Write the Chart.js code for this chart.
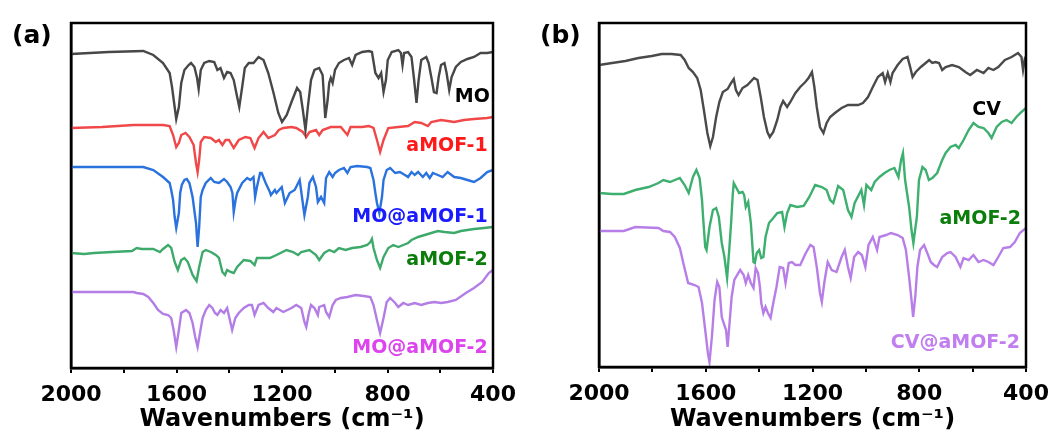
<!DOCTYPE html>
<html>
<head>
<meta charset="utf-8">
<script src="https://cdn.jsdelivr.net/npm/chart.js@4.4.1/dist/chart.umd.min.js"></script>
<style>
  html, body { margin: 0; padding: 0; background: #fff; }
  #wrap { position: relative; width: 1061px; height: 437px; }
  canvas { position: absolute; top: 0; }
  #chartA { left: 0; }
  #chartB { left: 530px; }
</style>
</head>
<body>
<div id="wrap">
  <canvas id="chartA" width="530" height="437"></canvas>
  <canvas id="chartB" width="531" height="437"></canvas>
</div>
<script>
// x axis: wavenumber, labelled ticks
const xTickLabels = [2000, 1600, 1200, 800, 400];

// Panel (a) spectra: [wavenumber, transmittance (a.u., offset)]
const MO = [[2000,314],[1857,316],[1726,317],[1688,313],[1651,305],[1626,295],[1617,281],[1607,261],[1601,249],[1591,261],[1582,285],[1570,298],[1554,303],[1545,305],[1532,301],[1522,290],[1516,279],[1508,298],[1495,305],[1476,307],[1457,306],[1445,298],[1433,300],[1420,290],[1408,296],[1395,295],[1383,288],[1370,271],[1362,261],[1351,281],[1341,300],[1326,305],[1308,305],[1289,311],[1270,308],[1252,295],[1233,276],[1214,255],[1200,246],[1182,253],[1164,266],[1143,280],[1131,276],[1121,258],[1111,238],[1102,261],[1090,288],[1077,298],[1059,300],[1046,293],[1036,250],[1027,268],[1021,285],[1015,290],[1008,285],[999,298],[984,305],[965,308],[946,310],[934,303],[921,313],[896,316],[871,317],[859,316],[846,295],[834,290],[824,295],[815,276],[806,288],[799,308],[784,316],[759,318],[749,315],[743,303],[737,315],[722,316],[709,311],[699,288],[690,265],[682,288],[672,308],[653,311],[644,305],[634,291],[624,276],[614,275],[606,291],[597,303],[584,305],[576,295],[566,278],[557,291],[541,301],[522,306],[497,309],[472,311],[447,315],[422,315],[400,316]];

const aMOF1 = [[2000,240],[1882,241],[1763,243],[1651,243],[1626,242],[1613,233],[1601,221],[1591,225],[1582,233],[1566,235],[1551,231],[1535,223],[1526,205],[1520,196],[1514,208],[1508,226],[1495,231],[1470,230],[1451,226],[1439,228],[1426,223],[1414,228],[1401,228],[1383,220],[1364,228],[1339,231],[1320,230],[1304,220],[1289,230],[1270,236],[1252,230],[1227,233],[1212,238],[1195,240],[1164,241],[1146,240],[1121,236],[1108,231],[1096,236],[1071,238],[1059,233],[1046,238],[1015,241],[977,241],[952,233],[940,241],[896,241],[871,242],[853,240],[840,228],[828,216],[815,228],[797,240],[759,241],[722,242],[697,246],[672,245],[647,242],[634,246],[597,248],[547,246],[510,248],[472,249],[422,250],[400,251]];

const MOaMOF1 = [[2000,201],[1751,201],[1726,201],[1688,198],[1651,191],[1626,185],[1620,178],[1613,168],[1607,151],[1601,140],[1591,155],[1586,175],[1580,183],[1570,188],[1561,189],[1551,185],[1539,171],[1526,145],[1520,121],[1514,141],[1508,171],[1501,178],[1489,185],[1470,190],[1457,186],[1439,185],[1420,189],[1408,186],[1395,181],[1388,175],[1383,156],[1376,168],[1370,175],[1351,185],[1332,190],[1320,188],[1308,191],[1302,171],[1295,181],[1283,195],[1277,195],[1262,185],[1246,176],[1242,173],[1227,178],[1221,175],[1201,181],[1189,165],[1171,175],[1152,178],[1133,188],[1115,153],[1102,171],[1096,185],[1083,191],[1071,181],[1064,166],[1052,171],[1040,165],[1033,190],[1021,196],[1008,191],[999,195],[984,198],[965,200],[952,195],[940,201],[915,202],[877,201],[865,200],[853,188],[846,175],[840,165],[831,155],[821,171],[815,188],[803,198],[790,200],[771,195],[753,196],[734,193],[722,191],[709,196],[697,193],[684,196],[666,191],[653,195],[640,190],[628,195],[609,193],[591,191],[572,196],[547,191],[522,190],[497,188],[472,186],[447,190],[422,196],[400,198]];

const aMOF2a = [[2000,115],[1950,114],[1913,115],[1844,116],[1769,117],[1751,120],[1732,119],[1688,119],[1663,116],[1651,119],[1632,123],[1620,120],[1607,106],[1595,98],[1582,108],[1570,110],[1557,106],[1539,93],[1524,87],[1514,101],[1501,116],[1489,118],[1470,116],[1451,113],[1439,110],[1426,96],[1416,93],[1408,98],[1395,96],[1383,95],[1370,101],[1345,108],[1320,107],[1304,103],[1295,110],[1277,110],[1246,110],[1221,113],[1183,118],[1158,116],[1139,113],[1127,116],[1096,118],[1071,113],[1059,108],[1040,115],[1021,118],[1002,116],[984,120],[959,118],[934,120],[902,121],[877,123],[865,126],[859,129],[853,120],[840,108],[828,100],[815,111],[797,120],[778,123],[759,121],[740,123],[722,125],[709,128],[684,131],[659,133],[634,135],[609,137],[584,136],[547,135],[522,137],[497,138],[472,139],[434,140],[400,141]];

const MOaMOF2 = [[2000,76],[1763,76],[1751,75],[1726,74],[1707,71],[1688,65],[1670,58],[1651,54],[1632,53],[1620,50],[1611,38],[1601,21],[1591,38],[1582,55],[1564,58],[1551,55],[1539,45],[1529,31],[1520,21],[1511,35],[1501,50],[1489,58],[1476,63],[1464,60],[1454,55],[1445,53],[1433,58],[1420,55],[1408,60],[1395,45],[1389,38],[1377,50],[1364,55],[1345,60],[1326,63],[1314,63],[1304,53],[1289,63],[1270,65],[1252,60],[1233,56],[1221,60],[1195,56],[1164,60],[1146,63],[1127,60],[1115,46],[1108,41],[1098,55],[1090,63],[1077,60],[1064,53],[1059,61],[1040,63],[1033,56],[1021,51],[1008,63],[996,68],[977,70],[952,71],[921,73],[890,72],[865,71],[853,63],[840,48],[828,35],[815,50],[803,66],[790,70],[771,65],[759,61],[740,65],[722,63],[697,65],[672,63],[647,65],[622,66],[597,65],[572,66],[541,68],[503,75],[472,80],[441,86],[416,95],[400,98]];

// Panel (b) spectra
const CV = [[2000,302],[1951,304],[1901,306],[1852,309],[1802,311],[1765,313],[1728,313],[1694,312],[1679,307],[1664,299],[1648,295],[1632,289],[1619,277],[1607,257],[1594,234],[1583,221],[1573,230],[1561,250],[1549,265],[1536,275],[1518,278],[1505,284],[1495,288],[1487,277],[1477,272],[1462,279],[1444,282],[1419,289],[1406,287],[1394,270],[1382,250],[1369,235],[1360,230],[1347,235],[1332,247],[1320,260],[1310,266],[1295,260],[1283,265],[1264,274],[1246,280],[1227,285],[1215,289],[1202,295],[1193,280],[1184,260],[1172,240],[1159,234],[1147,244],[1134,250],[1116,254],[1091,259],[1067,262],[1029,262],[1011,264],[992,270],[974,280],[955,290],[937,294],[928,285],[918,294],[908,285],[900,294],[881,302],[862,308],[844,310],[834,300],[825,290],[813,295],[794,300],[776,304],[763,307],[751,304],[739,305],[726,304],[714,297],[701,300],[677,302],[652,300],[627,295],[609,292],[584,297],[559,294],[541,299],[522,297],[504,300],[479,307],[454,310],[430,314],[417,310],[411,297],[405,307],[400,304]];

const aMOF2b = [[2000,174],[1951,173],[1907,173],[1864,177],[1814,180],[1777,184],[1759,187],[1734,185],[1697,189],[1679,182],[1664,174],[1648,190],[1635,197],[1623,189],[1614,167],[1610,150],[1602,120],[1597,117],[1586,140],[1573,157],[1561,159],[1551,150],[1540,124],[1530,110],[1520,89],[1512,117],[1505,144],[1499,172],[1495,184],[1487,180],[1475,174],[1462,175],[1456,172],[1450,160],[1441,165],[1431,144],[1421,105],[1416,104],[1409,114],[1400,117],[1392,109],[1384,110],[1376,130],[1363,144],[1347,149],[1332,154],[1314,155],[1305,140],[1295,154],[1283,162],[1258,160],[1233,161],[1212,170],[1190,182],[1165,180],[1147,177],[1134,167],[1122,164],[1104,181],[1085,177],[1067,157],[1054,150],[1042,164],[1017,177],[1007,162],[998,182],[980,177],[967,185],[949,190],[930,194],[912,197],[893,199],[878,190],[868,207],[861,214],[853,187],[838,160],[829,137],[822,124],[809,150],[801,187],[788,200],[776,197],[764,187],[751,189],[733,194],[714,207],[701,214],[683,220],[664,222],[652,219],[634,227],[615,237],[597,244],[578,240],[559,239],[541,234],[529,229],[510,240],[491,245],[473,247],[454,244],[436,250],[417,255],[400,259]];

const CVaMOF2 = [[2000,136],[1907,136],[1864,140],[1777,139],[1759,136],[1734,135],[1716,130],[1697,119],[1685,105],[1666,84],[1642,82],[1627,80],[1614,64],[1602,37],[1592,14],[1586,5],[1577,30],[1567,67],[1557,85],[1549,80],[1540,50],[1533,44],[1524,37],[1518,20],[1512,40],[1503,70],[1493,87],[1471,97],[1458,92],[1450,84],[1441,92],[1431,84],[1421,79],[1413,99],[1404,94],[1397,80],[1392,64],[1384,54],[1376,60],[1367,54],[1357,49],[1347,64],[1335,80],[1323,100],[1310,99],[1301,84],[1289,104],[1277,105],[1264,102],[1246,102],[1227,113],[1208,122],[1196,120],[1184,100],[1172,74],[1165,65],[1156,84],[1143,105],[1128,97],[1110,95],[1091,110],[1079,117],[1067,100],[1057,89],[1044,110],[1029,115],[1015,112],[1002,100],[990,122],[974,130],[958,117],[949,130],[924,132],[906,134],[881,132],[862,129],[850,117],[838,90],[829,67],[823,50],[815,70],[807,100],[797,117],[782,122],[767,112],[757,105],[745,102],[733,100],[714,110],[695,114],[683,115],[664,110],[646,100],[634,109],[615,107],[597,112],[578,105],[559,107],[541,105],[522,102],[504,110],[485,119],[460,120],[442,125],[423,134],[400,139]];

document.addEventListener('DOMContentLoaded', function() {

    // Text labels next to each trace, anchored in data units
    const seriesLabels = {
        id: 'seriesLabels',
        afterDatasetsDraw(chart, args, opts) {
            const ctx = chart.ctx;
            const xs = chart.scales.x;
            const ys = chart.scales.y;
            ctx.save();
            ctx.font = 'bold 19px "DejaVu Sans"';
            ctx.textAlign = 'right';
            ctx.textBaseline = 'middle';
            opts.items.forEach(item => {
                ctx.fillStyle = item.color;
                ctx.fillText(item.text, xs.getPixelForValue(item.x), ys.getPixelForValue(item.y));
            });
            // panel letter
            ctx.font = 'bold 25px "DejaVu Sans"';
            ctx.textAlign = 'left';
            ctx.fillStyle = '#000';
            ctx.fillText(opts.panel, opts.panelX, opts.panelY);
            ctx.restore();
        }
    };

    // Closed box round the plot area
    const frame = {
        id: 'frame',
        afterDraw(chart) {
            const { ctx, chartArea: a } = chart;
            ctx.save();
            ctx.strokeStyle = '#000';
            ctx.lineWidth = 2.5;
            ctx.strokeRect(a.left, a.top, a.right - a.left, a.bottom - a.top);
            ctx.restore();
        }
    };

    function line(label, pts, color) {
        return {
            label: label,
            data: pts.map(p => ({ x: p[0], y: p[1] })),
            borderColor: color,
            borderWidth: 2.4,
            pointRadius: 0,
            fill: false,
            tension: 0
        };
    }

    function createPanel(canvasId, datasets, yMax, pad, axisHeight, labelOpts) {
        return new Chart(document.getElementById(canvasId), {
            type: 'line',
            data: { datasets: datasets },
            options: {
                responsive: false,
                animation: false,
                parsing: false,
                layout: { padding: pad },
                plugins: {
                    legend: { display: false },
                    tooltip: { enabled: false },
                    seriesLabels: labelOpts
                },
                scales: {
                    x: {
                        type: 'linear',
                        reverse: true,
                        min: 400,
                        max: 2000,
                        afterFit: s => { s.height = axisHeight; },
                        afterBuildTicks: s => {
                            s.ticks = [];
                            for (let v = 400; v <= 2000; v += 200) s.ticks.push({ value: v });
                        },
                        ticks: {
                            autoSkip: false,
                            maxRotation: 0,
                            padding: 9,
                            color: '#000',
                            font: { family: 'DejaVu Sans', size: 22, weight: 'bold' },
                            callback: v => xTickLabels.includes(v) ? String(v) : ''
                        },
                        grid: { drawOnChartArea: false, drawTicks: true, tickLength: 5, color: '#000', lineWidth: 2 },
                        border: { display: true, color: '#000', width: 2.5 },
                        title: {
                            display: true,
                            text: 'Wavenumbers (cm⁻¹)',
                            color: '#000',
                            font: { family: 'DejaVu Sans', size: 24, weight: 'bold' },
                            padding: { top: 0, bottom: 3 }
                        }
                    },
                    y: {
                        min: 0,
                        max: yMax,
                        afterFit: s => { s.width = 0; },
                        ticks: { display: false },
                        grid: { display: false, drawTicks: false },
                        border: { display: true, color: '#000', width: 2.5 }
                    }
                }
            },
            plugins: [seriesLabels, frame]
        });
    }

    // Panel (a)
    createPanel('chartA', [
        line('MO', MO, '#474747'),
        line('aMOF-1', aMOF1, '#f04848'),
        line('MO@aMOF-1', MOaMOF1, '#2a72dd'),
        line('aMOF-2', aMOF2a, '#3daa6c'),
        line('MO@aMOF-2', MOaMOF2, '#b37de6')
    ], 345, { left: 71, right: 37, top: 23, bottom: 0 }, 69, {
        panel: '(a)', panelX: 12, panelY: 36,
        items: [
            { text: 'MO', color: '#000000', x: 412, y: 271 },
            { text: 'aMOF-1', color: '#ff1a1a', x: 420, y: 222 },
            { text: 'MO@aMOF-1', color: '#1a1aff', x: 420, y: 151 },
            { text: 'aMOF-2', color: '#0b7d0b', x: 420, y: 108 },
            { text: 'MO@aMOF-2', color: '#dd44ee', x: 420, y: 20 }
        ]
    });

    // Panel (b)
    createPanel('chartB', [
        line('CV', CV, '#4a4a4a'),
        line('aMOF-2', aMOF2b, '#3daf6f'),
        line('CV@aMOF-2', CVaMOF2, '#b87ee8')
    ], 344, { left: 69, right: 35, top: 23, bottom: 0 }, 70, {
        panel: '(b)', panelX: 10, panelY: 36,
        items: [
            { text: 'CV', color: '#000000', x: 494, y: 257 },
            { text: 'aMOF-2', color: '#0b7d0b', x: 419, y: 148 },
            { text: 'CV@aMOF-2', color: '#c07ef0', x: 423, y: 24 }
        ]
    });
});
</script>
</body>
</html>
